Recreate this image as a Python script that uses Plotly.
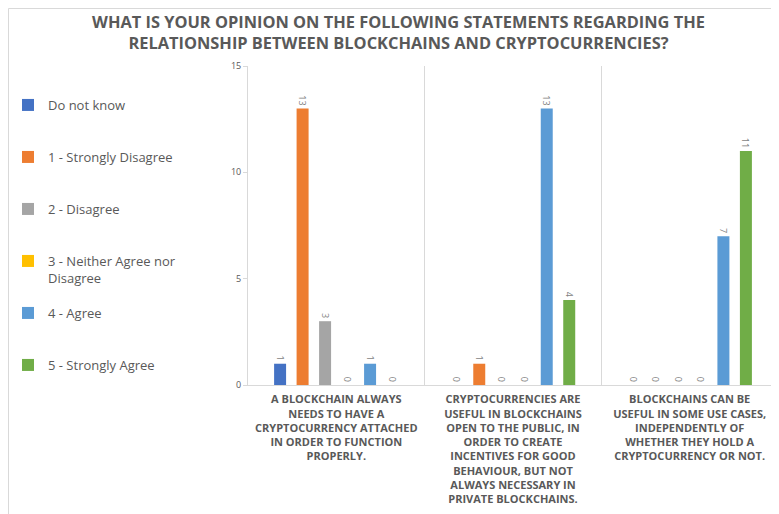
import plotly.graph_objects as go

title_text = "WHAT IS YOUR OPINION ON THE FOLLOWING STATEMENTS REGARDING THE<br>RELATIONSHIP BETWEEN BLOCKCHAINS AND CRYPTOCURRENCIES?"

categories = [
    "A BLOCKCHAIN ALWAYS<br>NEEDS TO HAVE A<br>CRYPTOCURRENCY ATTACHED<br>IN ORDER TO FUNCTION<br>PROPERLY.",
    "CRYPTOCURRENCIES ARE<br>USEFUL IN BLOCKCHAINS<br>OPEN TO THE PUBLIC, IN<br>ORDER TO CREATE<br>INCENTIVES FOR GOOD<br>BEHAVIOUR, BUT NOT<br>ALWAYS NECESSARY IN<br>PRIVATE BLOCKCHAINS.",
    "BLOCKCHAINS CAN BE<br>USEFUL IN SOME USE CASES,<br>INDEPENDENTLY OF<br>WHETHER THEY HOLD A<br>CRYPTOCURRENCY OR NOT.",
]

series_names = [
    "Do not know",
    "1 - Strongly Disagree",
    "2 - Disagree",
    "3 - Neither Agree nor<br>Disagree",
    "4 - Agree",
    "5 - Strongly Agree",
]

do_not_know = [1, 0, 0]
strongly_disagree = [13, 1, 0]
disagree = [3, 0, 0]
neither = [0, 0, 0]
agree = [1, 13, 7]
strongly_agree = [0, 4, 11]

series_values = [do_not_know, strongly_disagree, disagree, neither, agree, strongly_agree]
colors = ["#4472C4", "#ED7D31", "#A5A5A5", "#FFC000", "#5B9BD5", "#70AD47"]

y_ticks = [0, 5, 10, 15]

# page has an 8px body margin, so the figure is sized/offset to compensate
W, H = 771, 506
ML, MR, MT, MB = 240, 1, 58, 129

fig = go.Figure()
legend_ids = ["legend", "legend2", "legend3", "legend4", "legend5", "legend6"]
for i, (name, vals, col) in enumerate(zip(series_names, series_values, colors)):
    fig.add_trace(go.Bar(
        name=name,
        x=categories,
        y=vals,
        marker=dict(color=col, line=dict(width=0)),
        text=[str(v) for v in vals],
        textposition="outside",
        textangle=90,
        constraintext="none",
        cliponaxis=False,
        textfont=dict(family="Open Sans", size=9, color="#7F7F7F"),
        legend=legend_ids[i],
    ))

gray = "#595959"
layout_legends = {}
for i, lid in enumerate(legend_ids):
    top_px = 82 + 52 * i
    layout_legends[lid] = dict(
        xref="container", yref="container",
        x=0, y=1 - top_px / H,
        xanchor="left", yanchor="top",
        valign="top",
        bgcolor="rgba(0,0,0,0)",
        font=dict(family="Open Sans", size=13, color=gray),
        itemwidth=30,
    )

fig.update_layout(
    width=W, height=H,
    margin=dict(l=ML, r=MR, t=MT, b=MB, autoexpand=False),
    paper_bgcolor="white",
    plot_bgcolor="white",
    barmode="group",
    bargap=0.236,
    bargroupgap=0.467,
    title=dict(
        text=title_text,
        x=(W / 2 + 5) / W, xref="container", xanchor="center",
        y=1 - 20 / H, yref="container", yanchor="top",
        font=dict(family="Open Sans", size=16.4, color=gray, weight="bold"),
    ),
    xaxis=dict(
        type="category",
        tickson="boundaries",
        showgrid=True,
        gridcolor="#D9D9D9",
        gridwidth=1,
        showline=True,
        linecolor="#D9D9D9",
        ticks="",
        ticklabelstandoff=4,
        tickfont=dict(family="Open Sans", size=11, color=gray, weight="bold"),
        tickangle=0,
    ),
    yaxis=dict(
        range=[0, 15],
        tickvals=y_ticks,
        showgrid=False,
        showline=True,
        linecolor="#D9D9D9",
        ticks="outside",
        ticklen=4,
        tickcolor="#D9D9D9",
        tickfont=dict(family="Open Sans", size=9, color=gray),
        zeroline=False,
    ),
    showlegend=True,
    **layout_legends,
)

pw = W - ML - MR
ph = H - MT - MB
fig.add_shape(
    type="rect", xref="paper", yref="paper",
    x0=(0.5 - ML) / pw, x1=(W + 5 - ML) / pw,
    y0=-(H + 5 - MT - ph) / ph, y1=1 + (MT - 0.5) / ph,
    line=dict(color="#D9D9D9", width=1),
    fillcolor="rgba(0,0,0,0)",
    layer="below",
)

fig.write_html("out.html")
